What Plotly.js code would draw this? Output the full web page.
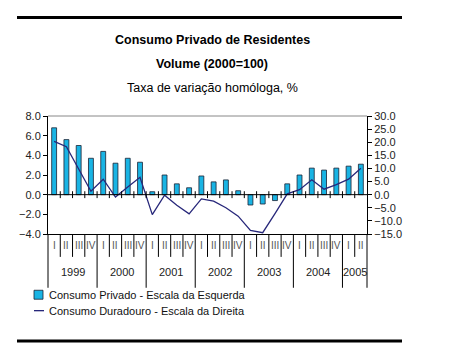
<!DOCTYPE html>
<html>
<head>
<meta charset="utf-8">
<script src="https://cdn.plot.ly/plotly-3.0.1.min.js"></script>
<style>
html,body{margin:0;padding:0;background:#fff;}
#chart{width:450px;height:357px;}
</style>
</head>
<body>
<div id="chart"></div>
<script>
// ---- data ----
const years = ['1999','2000','2001','2002','2003','2004','2005'];
const quartersPerYear = [4,4,4,4,4,4,2];
const quarterNames = ['I','II','III','IV'];
const privado = [6.8,5.6,5.0,3.7, 4.4,3.2,3.7,3.3, 0.3,2.0,1.1,0.7, 1.9,1.3,1.5,0.4, -1.05,-0.95,-0.6,1.1, 2.0,2.7,2.5,2.7, 2.9,3.1];
const duradouro = [20.3,18.3,9.8,1.3, 5.9,-0.9,2.9,6.6, -7.6,-0.2,-4.0,-7.3, -1.6,-2.5,-5.0,-8.2, -13.6,-14.5,-7.2,0.3, 1.9,5.7,2.1,3.8, 5.9,10.1];
const leftRange = [-4, 8];
const rightRange = [-15, 30];
const titleLines = ['<b>Consumo Privado de Residentes</b>', '<b>Volume (2000=100)</b>', 'Taxa de variação homóloga, %'];
const legendNames = ['Consumo Privado - Escala da Esquerda', 'Consumo Duradouro - Escala da Direita'];

// ---- categories ----
const cats = [], qLabels = [];
years.forEach((y, yi) => {
  for (let q = 0; q < quartersPerYear[yi]; q++) { cats.push(y + ' ' + quarterNames[q]); qLabels.push(quarterNames[q]); }
});
const n = cats.length;
const xi = cats.map((c, i) => i);

// ---- layout geometry ----
const W = 450, H = 357;
const M = {l: 48, r: 83, t: 115.5, b: 123};
const PW = W - M.l - M.r, PH = H - M.t - M.b;
const px = x => (x - M.l) / PW;
const py = y => (H - M.b - y) / PH;

const barColor = '#19b4e4';
const lineColor = '#27277a';
const font = 'Liberation Sans, Arial, sans-serif';

const traces = [
  {type: 'bar', x: xi, y: privado, name: legendNames[0], width: 0.4,
   marker: {color: barColor, line: {color: '#1a2233', width: 0.8}}, yaxis: 'y', showlegend: false, hoverinfo: 'y'},
  {type: 'scatter', mode: 'lines', x: xi, y: duradouro, name: legendNames[1],
   line: {color: lineColor, width: 1.3}, yaxis: 'y2', showlegend: false, hoverinfo: 'y'}
];

const shapes = [];
const annotations = [];

// top & bottom heavy rules
shapes.push({type: 'line', xref: 'paper', yref: 'paper', x0: px(17), x1: px(402), y0: py(16.5), y1: py(16.5), line: {color: '#000', width: 3}});
shapes.push({type: 'line', xref: 'paper', yref: 'paper', x0: px(17), x1: px(402), y0: py(341.5), y1: py(341.5), line: {color: '#000', width: 3}});
// top frame line (gray)
shapes.push({type: 'line', xref: 'paper', yref: 'paper', x0: 0, x1: 1, y0: 1, y1: 1, line: {color: '#888', width: 1}});
// zero line
shapes.push({type: 'line', xref: 'paper', yref: 'y', x0: 0, x1: 1, y0: 0, y1: 0, line: {color: '#000', width: 1}});

// ticks on the zero line and table separators
let yearStarts = [0];
quartersPerYear.forEach((c, i) => yearStarts.push(yearStarts[i] + c));
for (let k = 1; k < n; k++) {
  shapes.push({type: 'line', xref: 'x', yref: 'y', x0: k - 0.5, x1: k - 0.5, y0: -0.35, y1: 0.35, line: {color: '#000', width: 1}});
  const isYear = yearStarts.includes(k);
  shapes.push({type: 'line', xref: 'x', yref: 'paper', x0: k - 0.5, x1: k - 0.5, y0: 0, y1: isYear ? py(288) : py(257), line: {color: '#000', width: 1}});
}
// outer table edges
shapes.push({type: 'line', xref: 'paper', yref: 'paper', x0: 0, x1: 0, y0: 0, y1: py(288), line: {color: '#000', width: 1}});
shapes.push({type: 'line', xref: 'paper', yref: 'paper', x0: 1, x1: 1, y0: 0, y1: py(288), line: {color: '#000', width: 1}});

// quarter labels
qLabels.forEach((q, i) => {
  annotations.push({xref: 'x', yref: 'paper', x: i, y: py(246), text: q, showarrow: false,
    font: {family: font, size: 10, color: '#555'}, xanchor: 'center', yanchor: 'middle'});
});
// year labels
years.forEach((y, yi) => {
  const c = (yearStarts[yi] + yearStarts[yi + 1] - 1) / 2;
  annotations.push({xref: 'x', yref: 'paper', x: c, y: py(272), text: y, showarrow: false,
    font: {family: font, size: 11, color: '#222'}, xanchor: 'center', yanchor: 'middle'});
});

// titles
const titleY = [39.5, 63, 87];
titleLines.forEach((t, i) => {
  annotations.push({xref: 'paper', yref: 'paper', x: px(212), y: py(titleY[i]), text: t, showarrow: false,
    font: {family: font, size: 12.5, color: '#000'}, xanchor: 'center', yanchor: 'middle'});
});

// manual legend
shapes.push({type: 'rect', xref: 'paper', yref: 'paper', x0: px(34), x1: px(43), y0: py(299.5), y1: py(290.5),
  fillcolor: barColor, line: {color: '#1a2233', width: 0.8}});
shapes.push({type: 'line', xref: 'paper', yref: 'paper', x0: px(34), x1: px(44), y0: py(311), y1: py(311),
  line: {color: lineColor, width: 1.3}});
annotations.push({xref: 'paper', yref: 'paper', x: px(46.5), y: py(295), text: legendNames[0], showarrow: false,
  font: {family: font, size: 11, color: '#111'}, xanchor: 'left', yanchor: 'middle'});
annotations.push({xref: 'paper', yref: 'paper', x: px(46.5), y: py(311), text: legendNames[1], showarrow: false,
  font: {family: font, size: 11, color: '#111'}, xanchor: 'left', yanchor: 'middle'});

const layout = {
  width: W, height: H,
  margin: {l: M.l, r: M.r, t: M.t, b: M.b, pad: 0},
  paper_bgcolor: '#fff', plot_bgcolor: '#fff',
  showlegend: false,
  font: {family: font, size: 11, color: '#222'},
  xaxis: {range: [-0.5, n - 0.5], showticklabels: false, ticks: '', showgrid: false, zeroline: false,
    showline: true, linecolor: '#000', linewidth: 1, fixedrange: true},
  yaxis: {range: leftRange, dtick: 2, tickformat: '.1f', ticks: 'outside', ticklen: 4, tickcolor: '#000',
    showgrid: false, zeroline: false, showline: true, linecolor: '#000', linewidth: 1,
    tickfont: {family: font, size: 11, color: '#222'}},
  yaxis2: {range: rightRange, dtick: 5, tickformat: '.1f', ticks: 'outside', ticklen: 4, tickcolor: '#000',
    overlaying: 'y', side: 'right', showgrid: false, zeroline: false, showline: true, linecolor: '#000', linewidth: 1,
    tickfont: {family: font, size: 11, color: '#222'}},
  bargap: 0,
  shapes: shapes,
  annotations: annotations
};

Plotly.newPlot('chart', traces, layout, {displayModeBar: false, staticPlot: true});
</script>
</body>
</html>
